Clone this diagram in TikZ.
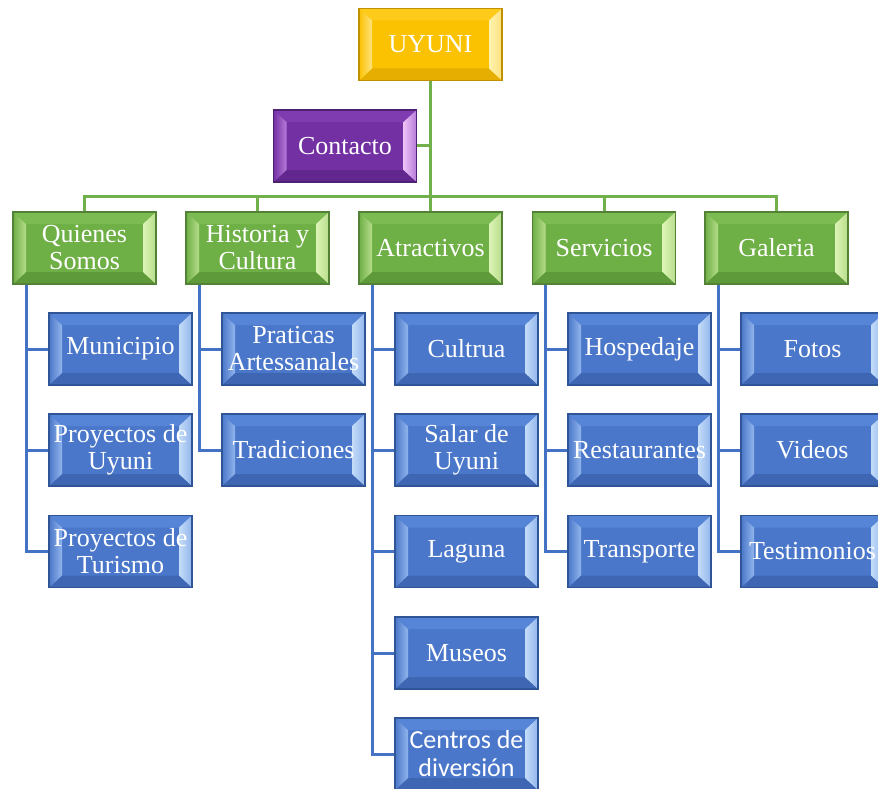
\documentclass[tikz,border=0pt]{standalone}
\usepackage{fontspec}
\setmainfont{Liberation Serif}
\newfontfamily\calib{Carlito}
\begin{document}
\begin{tikzpicture}[x=1pt,y=-1pt,
  bevbox/.style n args={6}{
    minimum width=143pt, minimum height=72pt, inner sep=0pt,
    align=center, text=white, font=\fontsize{26}{27}\selectfont,
    fill=#1, draw=#6, line width=1.1pt,
    path picture={
      \coordinate (o1) at (path picture bounding box.north west);
      \coordinate (o2) at (path picture bounding box.north east);
      \coordinate (o3) at (path picture bounding box.south east);
      \coordinate (o4) at (path picture bounding box.south west);
      \coordinate (i1) at ([shift={(13pt,-12pt)}]o1);
      \coordinate (i2) at ([shift={(-13pt,-12pt)}]o2);
      \coordinate (i3) at ([shift={(-13pt,12pt)}]o3);
      \coordinate (i4) at ([shift={(13pt,12pt)}]o4);
      \fill[#2] (o1) -- (o2) -- (i2) -- (i1) -- cycle;
      \fill[#5] (o4) -- (o3) -- (i3) -- (i4) -- cycle;
      \fill[left color=#1, right color=#3] (o1) -- (i1) -- (i4) -- (o4) -- cycle;
      \fill[left color=#4, right color=#3] (o2) -- (o3) -- (i3) -- (i2) -- cycle;
    }},
  yellowbox/.style={bevbox={uyBase}{uyTop}{uyLight}{uyHigh}{uyBot}{uyLine}},
  purplebox/.style={bevbox={cpBase}{cpTop}{cpLight}{cpHigh}{cpBot}{cpLine}},
  greenbox/.style={bevbox={gnBase}{gnTop}{gnLight}{gnHigh}{gnBot}{gnLine}},
  bluebox/.style={bevbox={blBase}{blTop}{blLight}{blHigh}{blBot}{blLine}},
  greenlink/.style={draw=gnWire, line width=3pt},
  bluelink/.style={draw=blWire, line width=3pt},
]
\definecolor{uyBase}{HTML}{FBC201}\definecolor{uyTop}{HTML}{FFCB1A}
\definecolor{uyLight}{HTML}{FFE27E}\definecolor{uyHigh}{HTML}{FFF2B0}
\definecolor{uyBot}{HTML}{E6AE00}\definecolor{uyLine}{HTML}{BF9000}
\definecolor{cpBase}{HTML}{7330A3}\definecolor{cpTop}{HTML}{7F3BB0}
\definecolor{cpLight}{HTML}{B67BD9}\definecolor{cpHigh}{HTML}{ECC0F7}
\definecolor{cpBot}{HTML}{62278E}\definecolor{cpLine}{HTML}{4E2272}
\definecolor{gnBase}{HTML}{6EAF46}\definecolor{gnTop}{HTML}{7BBB52}
\definecolor{gnLight}{HTML}{B6DD8A}\definecolor{gnHigh}{HTML}{DDF4B6}
\definecolor{gnBot}{HTML}{5E9A3A}\definecolor{gnLine}{HTML}{538135}
\definecolor{blBase}{HTML}{4A77C9}\definecolor{blTop}{HTML}{5684D6}
\definecolor{blLight}{HTML}{92B5EC}\definecolor{blHigh}{HTML}{C3DCF8}
\definecolor{blBot}{HTML}{3E66B3}\definecolor{blLine}{HTML}{2F5597}
\definecolor{gnWire}{HTML}{72B04C}\definecolor{blWire}{HTML}{4472C4}

\useasboundingbox (0,0) rectangle (878,789);

% top of the tree
\node[yellowbox] (uyuni) at (430.5,44.5) {UYUNI};
\node[purplebox] (contacto) at (345,146) {Contacto};

% second level
\node[greenbox] (quienes)    at (84.5,248)  {Quienes\\Somos};
\node[greenbox] (historia)   at (257.5,248) {Historia y\\Cultura};
\node[greenbox] (atractivos) at (430.5,248) {Atractivos};
\node[greenbox] (servicios)  at (604,248)   {Servicios};
\node[greenbox] (galeria)    at (776.5,248) {Galeria};

\coordinate (bus) at (430.5,196);

% third level
\node[bluebox] (municipio)   at (120.5,349)   {Municipio};
\node[bluebox] (proyuyuni)   at (120.5,450)   {Proyectos de\\Uyuni};
\node[bluebox] (proyturismo) at (120.5,551.5) {Proyectos de\\Turismo};

\node[bluebox] (praticas)    at (293.5,349) {Praticas\\Artessanales};
\node[bluebox] (tradiciones) at (293.5,450) {Tradiciones};

\node[bluebox] (cultrua) at (466.5,349)   {Cultrua};
\node[bluebox] (salar)   at (466.5,450)   {Salar de\\Uyuni};
\node[bluebox] (laguna)  at (466.5,551.5) {Laguna};
\node[bluebox] (museos)  at (466.5,653)   {Museos};
\node[bluebox, font=\calib\fontsize{26}{28}\selectfont] (centros) at (466.5,754) {Centros de\\diversión};

\node[bluebox] (hospedaje)    at (639.5,349)   {Hospedaje};
\node[bluebox] (restaurantes) at (639.5,450)   {Restaurantes};
\node[bluebox] (transporte)   at (639.5,551.5) {Transporte};

\node[bluebox] (fotos)       at (812.5,349)   {Fotos};
\node[bluebox] (videos)      at (812.5,450)   {Videos};
\node[bluebox] (testimonios) at (812.5,551.5) {Testimonios};

% green connectors
\draw[greenlink] (uyuni.south) -- (atractivos.north);
\draw[greenlink] (contacto.east) -- (contacto.east -| uyuni.south);
\foreach \n in {quienes,historia,servicios,galeria}
  \draw[greenlink] (\n.north) |- (bus);

% blue connectors
\foreach \p/\kids in {quienes/{municipio,proyuyuni,proyturismo},
                      historia/{praticas,tradiciones},
                      atractivos/{cultrua,salar,laguna,museos,centros},
                      servicios/{hospedaje,restaurantes,transporte},
                      galeria/{fotos,videos,testimonios}}
  \foreach \k in \kids
    \draw[bluelink] ([xshift=14pt]\p.south west) |- (\k.west);

\end{tikzpicture}
\end{document}
